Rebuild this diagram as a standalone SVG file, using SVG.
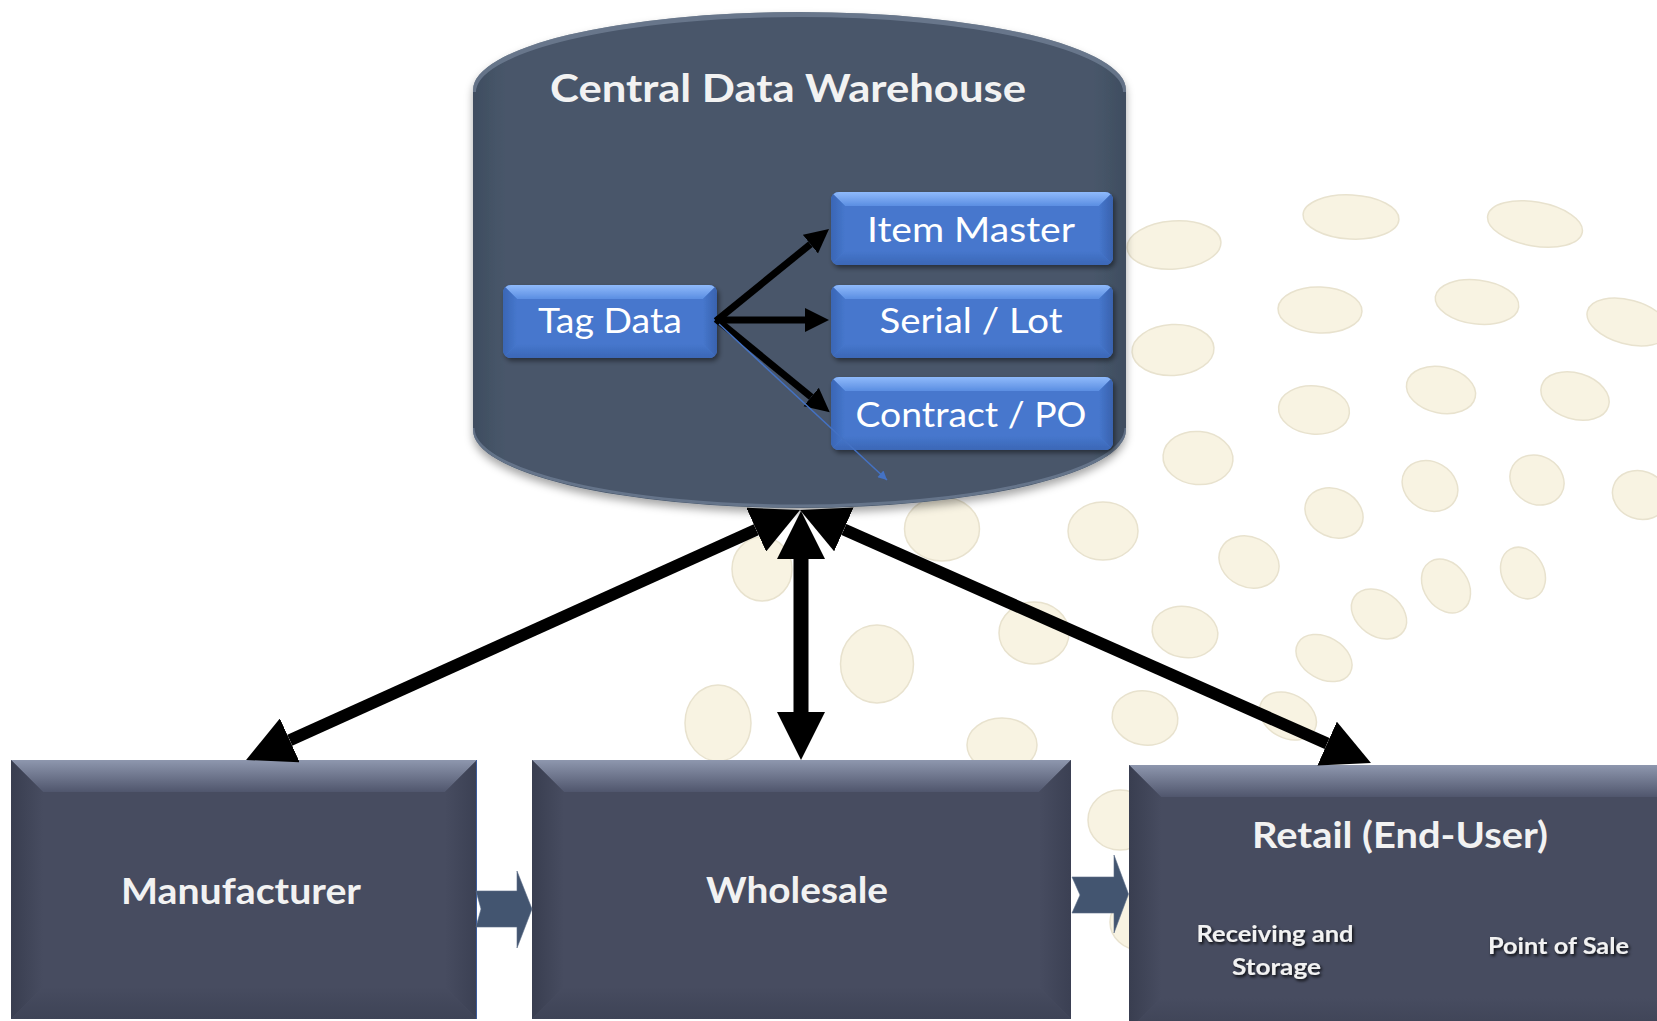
<svg xmlns="http://www.w3.org/2000/svg" width="1657" height="1021" viewBox="0 0 1657 1021">
<style>
  .dot { fill: #f8f3e2; stroke: #e8e2ce; stroke-width: 1.5; }
  .title { font-family: Lato, 'Open Sans', 'Liberation Sans', sans-serif; font-weight: 700; fill: #f2f2f2; text-anchor: middle; }
  .btxt { font-family: Lato, 'Open Sans', 'Liberation Sans', sans-serif; font-weight: 400; font-size: 35px; fill: #ffffff; text-anchor: middle; }
  .sub { font-family: Lato, 'Open Sans', 'Liberation Sans', sans-serif; font-weight: 700; font-size: 23px; fill: #f2f2f2; text-anchor: middle; filter: url(#txtShadow); }
  .big { fill: none; stroke: #000; stroke-width: 12; marker-start: url(#bigHead); marker-end: url(#bigHead); }
  .small { fill: none; stroke: #000; stroke-width: 7; marker-end: url(#smallHead); }
  .chev { fill: #435570; stroke: #5a6d88; stroke-width: 0.6; }
  .bx { fill: #474c60; }
</style>
<defs>
  <linearGradient id="gTop" x1="0" y1="0" x2="0" y2="1"><stop offset="0" stop-color="#8e97ae"/><stop offset="1" stop-color="#50566d"/></linearGradient>
  <linearGradient id="gLeft" x1="0" y1="0" x2="1" y2="0"><stop offset="0" stop-color="#393e50"/><stop offset="1" stop-color="#474c60"/></linearGradient>
  <linearGradient id="gRight" x1="0" y1="0" x2="1" y2="0"><stop offset="0" stop-color="#474c60"/><stop offset="1" stop-color="#3b4053"/></linearGradient>
  <linearGradient id="gBot" x1="0" y1="0" x2="0" y2="1"><stop offset="0" stop-color="#474c60"/><stop offset="1" stop-color="#3e4356"/></linearGradient>

  <linearGradient id="blueTop" x1="0" y1="0" x2="0" y2="1"><stop offset="0" stop-color="#8fbafb"/><stop offset="1" stop-color="#5b8ee2"/></linearGradient>
  <linearGradient id="blueLeft" x1="0" y1="0" x2="1" y2="0"><stop offset="0" stop-color="#3a66b5"/><stop offset="1" stop-color="#4677cd"/></linearGradient>
  <linearGradient id="blueRight" x1="0" y1="0" x2="1" y2="0"><stop offset="0" stop-color="#4677cd"/><stop offset="1" stop-color="#3962ae"/></linearGradient>
  <linearGradient id="blueBot" x1="0" y1="0" x2="0" y2="1"><stop offset="0" stop-color="#4677cd"/><stop offset="1" stop-color="#3b67b6"/></linearGradient>

  <linearGradient id="cylFill" x1="0" y1="0" x2="1" y2="0">
    <stop offset="0" stop-color="#3f4d60"/><stop offset="0.05" stop-color="#48576a"/><stop offset="0.95" stop-color="#48576a"/><stop offset="1" stop-color="#3f4d60"/>
  </linearGradient>

  <clipPath id="clipWide" clipPathUnits="userSpaceOnUse"><rect width="282" height="73" rx="8"/></clipPath>
  <clipPath id="clipTag" clipPathUnits="userSpaceOnUse"><rect width="214" height="73" rx="8"/></clipPath>
  <clipPath id="cylClip"><path d="M473,90 A326.5,78 0 0 1 1126,90 L1126,430 A326.5,78 0 0 1 473,430 Z"/></clipPath>

  <symbol id="blueWide" viewBox="0 0 282 73">
    <g clip-path="url(#clipWide)">
      <rect width="282" height="73" fill="#4677cd"/>
      <polygon points="0,0 282,0 268,14 14,14" fill="url(#blueTop)"/>
      <polygon points="0,0 14,14 14,59 0,73" fill="url(#blueLeft)"/>
      <polygon points="282,0 282,73 268,59 268,14" fill="url(#blueRight)"/>
      <polygon points="0,73 14,59 268,59 282,73" fill="url(#blueBot)"/>
    </g>
  </symbol>
  <symbol id="blueTag" viewBox="0 0 214 73">
    <g clip-path="url(#clipTag)">
      <rect width="214" height="73" fill="#4677cd"/>
      <polygon points="0,0 214,0 200,14 14,14" fill="url(#blueTop)"/>
      <polygon points="0,0 14,14 14,59 0,73" fill="url(#blueLeft)"/>
      <polygon points="214,0 214,73 200,59 200,14" fill="url(#blueRight)"/>
      <polygon points="0,73 14,59 200,59 214,73" fill="url(#blueBot)"/>
    </g>
  </symbol>

  <filter id="boxShadow" x="-10%" y="-20%" width="125%" height="150%">
    <feDropShadow dx="2" dy="3" stdDeviation="2.5" flood-color="#000" flood-opacity="0.45"/>
  </filter>
  <filter id="cylShadow" x="-5%" y="-5%" width="110%" height="115%">
    <feDropShadow dx="0" dy="5" stdDeviation="4" flood-color="#000" flood-opacity="0.35"/>
  </filter>
  <filter id="txtShadow" x="-10%" y="-30%" width="125%" height="170%">
    <feDropShadow dx="1.5" dy="2" stdDeviation="1.5" flood-color="#000" flood-opacity="0.85"/>
  </filter>

  <marker id="bigHead" markerUnits="userSpaceOnUse" markerWidth="48" markerHeight="48" viewBox="0 0 10 10" refX="0" refY="5" orient="auto-start-reverse">
    <path d="M0,0 L10,5 L0,10 Z" fill="#000"/>
  </marker>
  <marker id="smallHead" markerUnits="userSpaceOnUse" markerWidth="24" markerHeight="26" viewBox="0 0 10 10" refX="0" refY="5" orient="auto">
    <path d="M0,0 L10,5 L0,10 Z" fill="#000"/>
  </marker>
  <marker id="blueHead" markerUnits="userSpaceOnUse" markerWidth="11" markerHeight="9" viewBox="0 0 10 10" refX="10" refY="5" orient="auto">
    <path d="M0,0 L10,5 L0,10 Z" fill="#4472c4"/>
  </marker>
</defs>

<rect width="1657" height="1021" fill="#ffffff"/>

<g id="background-dots">
  <ellipse class="dot" cx="1174" cy="245" rx="47" ry="24" transform="rotate(-4 1174 245)"/>
  <ellipse class="dot" cx="1351" cy="217" rx="48" ry="22" transform="rotate(3 1351 217)"/>
  <ellipse class="dot" cx="1535" cy="224" rx="48" ry="22" transform="rotate(10 1535 224)"/>
  <ellipse class="dot" cx="1320" cy="310" rx="42" ry="23" transform="rotate(2 1320 310)"/>
  <ellipse class="dot" cx="1477" cy="302" rx="42" ry="22" transform="rotate(7 1477 302)"/>
  <ellipse class="dot" cx="1628" cy="322" rx="42" ry="22" transform="rotate(15 1628 322)"/>
  <ellipse class="dot" cx="1173" cy="350" rx="41" ry="25.5" transform="rotate(-3 1173 350)"/>
  <ellipse class="dot" cx="1314" cy="410" rx="35.5" ry="24" transform="rotate(5 1314 410)"/>
  <ellipse class="dot" cx="1441" cy="390" rx="35" ry="23" transform="rotate(12 1441 390)"/>
  <ellipse class="dot" cx="1575" cy="396" rx="35" ry="23" transform="rotate(17 1575 396)"/>
  <ellipse class="dot" cx="1198" cy="458" rx="35" ry="26.5" transform="rotate(5 1198 458)"/>
  <ellipse class="dot" cx="1334" cy="513" rx="30" ry="24" transform="rotate(25 1334 513)"/>
  <ellipse class="dot" cx="1430" cy="486" rx="29" ry="24" transform="rotate(30 1430 486)"/>
  <ellipse class="dot" cx="1537" cy="480" rx="28" ry="24" transform="rotate(30 1537 480)"/>
  <ellipse class="dot" cx="1640" cy="495" rx="28" ry="24" transform="rotate(20 1640 495)"/>
  <ellipse class="dot" cx="1103" cy="531" rx="35" ry="29"/>
  <ellipse class="dot" cx="1249" cy="562" rx="31" ry="25" transform="rotate(25 1249 562)"/>
  <ellipse class="dot" cx="1446" cy="586" rx="29" ry="22" transform="rotate(55 1446 586)"/>
  <ellipse class="dot" cx="1523" cy="573" rx="27" ry="21" transform="rotate(62 1523 573)"/>
  <ellipse class="dot" cx="1379" cy="614" rx="30" ry="22" transform="rotate(35 1379 614)"/>
  <ellipse class="dot" cx="1185" cy="632" rx="33" ry="25.5" transform="rotate(10 1185 632)"/>
  <ellipse class="dot" cx="1324" cy="658" rx="30" ry="21" transform="rotate(30 1324 658)"/>
  <ellipse class="dot" cx="1145" cy="718" rx="33" ry="27" transform="rotate(10 1145 718)"/>
  <ellipse class="dot" cx="1288" cy="716" rx="30" ry="22" transform="rotate(28 1288 716)"/>
  <ellipse class="dot" cx="942" cy="529" rx="37.5" ry="32"/>
  <ellipse class="dot" cx="762" cy="569" rx="30" ry="32"/>
  <ellipse class="dot" cx="877" cy="664" rx="36.5" ry="39"/>
  <ellipse class="dot" cx="1034" cy="633" rx="35" ry="31"/>
  <ellipse class="dot" cx="718" cy="723" rx="33" ry="38"/>
  <ellipse class="dot" cx="1002" cy="745" rx="35" ry="27"/>
  <ellipse class="dot" cx="1120" cy="820" rx="32" ry="30"/>
  <ellipse class="dot" cx="1140" cy="922" rx="30" ry="28"/>
</g>

<g id="central-data-warehouse">
  <path d="M473,90 A326.5,78 0 0 1 1126,90 L1126,430 A326.5,78 0 0 1 473,430 Z" fill="url(#cylFill)" filter="url(#cylShadow)"/>
  <g clip-path="url(#cylClip)">
    <path d="M473,92 A326.5,78 0 0 1 1126,92" fill="none" stroke="#7d8ca2" stroke-width="6" opacity="0.6"/>
    <path d="M473,428 A326.5,78 0 0 0 1126,428" fill="none" stroke="#7888a0" stroke-width="3" opacity="0.6"/>
  </g>
  <text class="title" x="788" y="102" font-size="39" textLength="476" lengthAdjust="spacingAndGlyphs">Central Data Warehouse</text>
</g>

<g id="tag-data">
  <use href="#blueTag" x="503" y="285" width="214" height="73" filter="url(#boxShadow)"/>
  <text class="btxt" x="610" y="333" textLength="144" lengthAdjust="spacingAndGlyphs">Tag Data</text>
</g>
<g id="item-master">
  <use href="#blueWide" x="831" y="192" width="282" height="73" filter="url(#boxShadow)"/>
  <text class="btxt" x="971" y="242" textLength="208" lengthAdjust="spacingAndGlyphs">Item Master</text>
</g>
<g id="serial-lot">
  <use href="#blueWide" x="831" y="285" width="282" height="73" filter="url(#boxShadow)"/>
  <text class="btxt" x="971" y="333" textLength="183" lengthAdjust="spacingAndGlyphs">Serial / Lot</text>
</g>
<g id="contract-po">
  <use href="#blueWide" x="831" y="377" width="282" height="73" filter="url(#boxShadow)"/>
  <text class="btxt" x="971" y="427" textLength="231" lengthAdjust="spacingAndGlyphs">Contract / PO</text>
</g>

<g id="manufacturer">
  <rect class="bx" x="11" y="760" width="466" height="259"/>
  <polygon points="11,760 477,760 445,792 43,792" fill="url(#gTop)"/>
  <polygon points="11,760 43,792 43,987 11,1019" fill="url(#gLeft)"/>
  <polygon points="477,760 477,1019 445,987 445,792" fill="url(#gRight)"/>
  <polygon points="11,1019 43,987 445,987 477,1019" fill="url(#gBot)"/>
  <line x1="476.5" y1="760" x2="476.5" y2="1019" stroke="#3b5c9c" stroke-width="1"/>
  <text class="title" x="241" y="904" font-size="36" textLength="240" lengthAdjust="spacingAndGlyphs">Manufacturer</text>
</g>

<g id="wholesale">
  <rect class="bx" x="532" y="760" width="539" height="259"/>
  <polygon points="532,760 1071,760 1039,792 564,792" fill="url(#gTop)"/>
  <polygon points="532,760 564,792 564,987 532,1019" fill="url(#gLeft)"/>
  <polygon points="1071,760 1071,1019 1039,987 1039,792" fill="url(#gRight)"/>
  <polygon points="532,1019 564,987 1039,987 1071,1019" fill="url(#gBot)"/>
  <text class="title" x="797" y="903" font-size="36" textLength="182" lengthAdjust="spacingAndGlyphs">Wholesale</text>
</g>

<g id="retail">
  <rect class="bx" x="1129" y="765" width="561" height="265"/>
  <polygon points="1129,765 1690,765 1658,797 1161,797" fill="url(#gTop)"/>
  <polygon points="1129,765 1161,797 1161,998 1129,1030" fill="url(#gLeft)"/>
  <polygon points="1129,1030 1161,998 1658,998 1690,1030" fill="url(#gBot)"/>
  <text class="title" x="1400" y="848" font-size="36" textLength="296" lengthAdjust="spacingAndGlyphs">Retail (End-User)</text>
  <text class="sub" x="1275" y="942" textLength="157" lengthAdjust="spacingAndGlyphs">Receiving and</text>
  <text class="sub" x="1276.5" y="975" textLength="89" lengthAdjust="spacingAndGlyphs">Storage</text>
  <text class="sub" x="1558.5" y="954" textLength="141" lengthAdjust="spacingAndGlyphs">Point of Sale</text>
</g>

<g id="connectors">
  <path class="small" d="M716,321 L810.4,244.2"/>
  <path class="small" d="M716,320 L805,320"/>
  <path class="small" d="M716,319 L811.2,397"/>
  <path d="M719,324 L887,480" fill="none" stroke="#4472c4" stroke-width="1.5" marker-end="url(#blueHead)"/>

  <path class="big" d="M756.2,529.7 L289.8,740.3"/>
  <path class="big" d="M801,559 L801,712" style="stroke-width:15"/>
  <path class="big" d="M843.9,529.4 L1327.1,743.6"/>

  <path class="chev" d="M476,891 L517,891 L517,871 L532,909 L517,948 L517,927 L476,927 L481,909 Z"/>
  <path class="chev" d="M1072,877 L1114,877 L1114,855 L1128.5,894 L1114,933 L1114,913 L1072,913 L1080,895 Z"/>
</g>
</svg>
